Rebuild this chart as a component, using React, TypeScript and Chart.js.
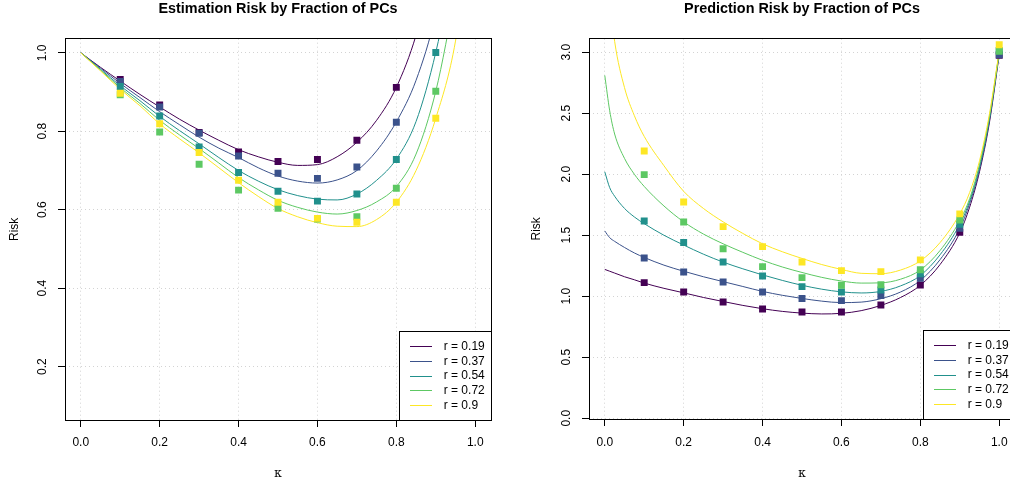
import React, { useEffect, useRef } from 'react';
import { Chart, registerables } from 'chart.js';

Chart.register(...registerables);

// ---------------- data ----------------
const SERIES_LABELS = ['r = 0.19', 'r = 0.37', 'r = 0.54', 'r = 0.72', 'r = 0.9'];
const SERIES_COLORS = ['#440154', '#3B528B', '#21908C', '#5DC863', '#FDE725'];

const X_TICKS = [0, 0.2, 0.4, 0.6, 0.8, 1.0];
const EST_Y_TICKS = [0.2, 0.4, 0.6, 0.8, 1.0];
const PRED_Y_TICKS = [0, 0.5, 1.0, 1.5, 2.0, 2.5, 3.0];

// simulated points (squares)
const POINT_K = [0.1, 0.2, 0.3, 0.4, 0.5, 0.6, 0.7, 0.8, 0.9, 1.0];

const EST_PTS_R019 = [0.932, 0.867, 0.797, 0.747, 0.723, 0.728, 0.777, 0.912, null, null];
const EST_PTS_R037 = [0.927, 0.862, 0.795, 0.737, 0.693, 0.680, 0.709, 0.823, null, null];
const EST_PTS_R054 = [0.914, 0.839, 0.760, 0.695, 0.647, 0.622, 0.640, 0.728, 1.001, null];
const EST_PTS_R072 = [0.893, 0.798, 0.716, 0.650, 0.604, 0.576, 0.582, 0.655, 0.902, null];
const EST_PTS_R090 = [0.897, 0.819, 0.746, 0.675, 0.619, 0.578, 0.568, 0.619, 0.833, null];

const PRED_PTS_R019 = [1.112, 1.035, 0.953, 0.896, 0.871, 0.871, 0.929, 1.093, 1.525, 2.975];
const PRED_PTS_R037 = [1.314, 1.199, 1.117, 1.035, 0.981, 0.964, 1.005, 1.148, 1.557, 2.98];
const PRED_PTS_R054 = [1.617, 1.440, 1.281, 1.166, 1.079, 1.035, 1.052, 1.185, 1.590, 3.015];
const PRED_PTS_R072 = [1.997, 1.609, 1.390, 1.243, 1.153, 1.090, 1.095, 1.218, 1.625, 3.008];
const PRED_PTS_R090 = [2.191, 1.773, 1.571, 1.407, 1.281, 1.210, 1.202, 1.298, 1.675, 3.062];

// theoretical curves
const EST_CURVE_K = [0, 0.05, 0.1, 0.15, 0.2, 0.25, 0.3, 0.35, 0.4, 0.45, 0.5, 0.55, 0.6, 0.65, 0.7, 0.75, 0.8, 0.85, 0.9, 0.95, 1.0];
const EST_CURVE_R019 = [1.0, 0.963, 0.928, 0.894, 0.862, 0.831, 0.803, 0.777, 0.753, 0.735, 0.721, 0.713, 0.715, 0.735, 0.772, 0.828, 0.912, 1.045, 1.25, null, null];
const EST_CURVE_R037 = [1.0, 0.961, 0.922, 0.886, 0.850, 0.817, 0.785, 0.757, 0.733, 0.707, 0.686, 0.673, 0.668, 0.676, 0.700, 0.750, 0.824, 0.930, 1.10, 1.38, null];
const EST_CURVE_R054 = [1.0, 0.958, 0.916, 0.878, 0.838, 0.802, 0.768, 0.733, 0.700, 0.673, 0.651, 0.636, 0.627, 0.625, 0.640, 0.675, 0.729, 0.825, 1.001, 1.25, null];
const EST_CURVE_R072 = [1.0, 0.956, 0.911, 0.871, 0.828, 0.791, 0.756, 0.719, 0.682, 0.651, 0.624, 0.606, 0.594, 0.589, 0.598, 0.620, 0.659, 0.742, 0.902, 1.15, null];
const EST_CURVE_R090 = [1.0, 0.954, 0.907, 0.865, 0.819, 0.781, 0.745, 0.707, 0.669, 0.634, 0.603, 0.582, 0.567, 0.558, 0.557, 0.575, 0.619, 0.700, 0.833, 1.03, 1.4];

const PRED_CURVE_K = [0, 0.0125, 0.025, 0.05, 0.075, 0.1, 0.15, 0.2, 0.25, 0.3, 0.35, 0.4, 0.45, 0.5, 0.55, 0.6, 0.65, 0.7, 0.75, 0.8, 0.85, 0.9, 0.925, 0.95, 0.975, 1.0];
const PRED_CURVE_R019 = [1.22, 1.205, 1.19, 1.16, 1.135, 1.108, 1.065, 1.028, 0.99, 0.957, 0.925, 0.898, 0.876, 0.862, 0.855, 0.86, 0.882, 0.925, 0.99, 1.09, 1.26, 1.52, 1.73, 2.02, 2.42, 2.98];
const PRED_CURVE_R037 = [1.535, 1.48, 1.45, 1.40, 1.355, 1.318, 1.255, 1.205, 1.16, 1.12, 1.08, 1.04, 1.008, 0.982, 0.96, 0.948, 0.952, 0.98, 1.035, 1.13, 1.30, 1.555, 1.76, 2.04, 2.44, 2.99];
const PRED_CURVE_R054 = [2.02, 1.89, 1.82, 1.72, 1.65, 1.595, 1.50, 1.42, 1.345, 1.28, 1.225, 1.175, 1.13, 1.09, 1.058, 1.036, 1.027, 1.04, 1.085, 1.17, 1.34, 1.59, 1.78, 2.06, 2.45, 3.0];
const PRED_CURVE_R072 = [2.81, 2.52, 2.33, 2.13, 2.00, 1.90, 1.74, 1.61, 1.51, 1.43, 1.36, 1.295, 1.24, 1.195, 1.155, 1.125, 1.108, 1.11, 1.14, 1.215, 1.375, 1.62, 1.80, 2.08, 2.47, 3.0];
const PRED_CURVE_R090 = [3.9, 3.45, 3.09, 2.71, 2.48, 2.31, 2.07, 1.86, 1.72, 1.61, 1.515, 1.43, 1.365, 1.31, 1.26, 1.22, 1.188, 1.185, 1.215, 1.29, 1.44, 1.675, 1.85, 2.11, 2.49, 3.01];

const EST_TITLE = 'Estimation Risk by Fraction of PCs';
const PRED_TITLE = 'Prediction Risk by Fraction of PCs';
const X_LABEL = 'κ';
const Y_LABEL = 'Risk';

// ---------------- helpers ----------------
const SANS = '"Liberation Sans", Arial, Helvetica, sans-serif';

function buildDatasets(curveK: number[], curves: (number | null)[][], points: (number | null)[][]) {
  const ds: any[] = [];
  curves.forEach((vals, i) => {
    ds.push({
      type: 'line',
      label: SERIES_LABELS[i],
      showInLegend: true,
      data: curveK.map((k, j) => ({ x: k, y: vals[j] })),
      borderColor: SERIES_COLORS[i],
      backgroundColor: SERIES_COLORS[i],
      borderWidth: 1,
      pointRadius: 0,
      pointHoverRadius: 0,
      cubicInterpolationMode: 'monotone',
      fill: false,
      spanGaps: false,
      order: 20 - i,
    });
  });
  points.forEach((vals, i) => {
    ds.push({
      type: 'line',
      label: SERIES_LABELS[i] + ' (simulated)',
      showInLegend: false,
      showLine: false,
      data: POINT_K.map((k, j) => ({ x: k, y: vals[j] })),
      pointStyle: 'rect',
      pointRadius: 4.9,
      pointHoverRadius: 4.9,
      pointBorderWidth: 0,
      pointBackgroundColor: SERIES_COLORS[i],
      borderColor: SERIES_COLORS[i],
      backgroundColor: SERIES_COLORS[i],
      order: 10 - i,
    });
  });
  return ds;
}

const frameLegendPlugin = {
  id: 'frameLegend',
  afterDraw(chart: any) {
    const { ctx, chartArea: a } = chart;
    ctx.save();
    // plot box
    const l = Math.floor(a.left) + 0.5;
    const t = Math.floor(a.top) + 0.5;
    const r = Math.floor(a.right) + 0.5;
    const b = Math.floor(a.bottom) + 0.5;
    ctx.strokeStyle = '#000';
    ctx.lineWidth = 1;
    ctx.setLineDash([]);
    ctx.strokeRect(l, t, r - l, b - t);

    // legend
    const lw = 92;
    const lh = 89;
    const bx = Math.floor(a.right) - lw;
    const by = Math.floor(a.bottom) - lh;
    ctx.fillStyle = '#fff';
    ctx.fillRect(bx, by, lw, lh);
    ctx.strokeStyle = '#000';
    ctx.strokeRect(bx + 0.5, by + 0.5, lw, lh);
    const items = chart.data.datasets.filter((d: any) => d.showInLegend);
    ctx.font = '12px ' + SANS;
    ctx.textAlign = 'left';
    ctx.textBaseline = 'middle';
    items.forEach((d: any, i: number) => {
      const y = by + 15.7 + i * 14.65;
      const ly = Math.floor(y) + 0.5;
      ctx.strokeStyle = d.borderColor;
      ctx.lineWidth = 1;
      ctx.beginPath();
      ctx.moveTo(bx + 11, ly);
      ctx.lineTo(bx + 33, ly);
      ctx.stroke();
      ctx.fillStyle = '#000';
      ctx.fillText(d.label, bx + 44.7, y);
    });
    ctx.restore();
  },
};

interface PanelCfg {
  title: string;
  yMin: number;
  yMax: number;
  yTicks: number[];
  yAxisWidth: number;
  xAxisHeight: number;
  padRight: number;
  yTitlePad: number;
  xTickPad: number;
  datasets: any[];
}

function makeConfig(c: PanelCfg): any {
  return {
    type: 'line',
    data: { datasets: c.datasets },
    plugins: [frameLegendPlugin],
    options: {
      responsive: false,
      maintainAspectRatio: false,
      animation: false,
      devicePixelRatio: 1,
      events: [],
      layout: { padding: { top: 0, left: 0, bottom: 0, right: c.padRight } },
      plugins: {
        legend: { display: false },
        tooltip: { enabled: false },
        title: {
          display: true,
          text: c.title,
          fullSize: false,
          color: '#000',
          font: { family: SANS, size: 14.4, weight: 'bold', lineHeight: 1.2 },
          padding: { top: 0.6, bottom: 20.82 },
        },
      },
      scales: {
        x: {
          type: 'linear',
          min: -0.04,
          max: 1.04,
          afterBuildTicks: (s: any) => {
            s.ticks = X_TICKS.map((v) => ({ value: v }));
          },
          afterFit: (s: any) => {
            s.height = c.xAxisHeight;
          },
          ticks: {
            autoSkip: false,
            maxRotation: 0,
            minRotation: 0,
            color: '#000',
            padding: c.xTickPad,
            font: { family: SANS, size: 12 },
            callback: (v: any) => Number(v).toFixed(1),
          },
          grid: {
            color: '#D3D3D3',
            lineWidth: 1,
            drawTicks: true,
            tickLength: 7,
            tickColor: '#000',
            tickWidth: 1,
            tickBorderDash: [],
          },
          border: { display: false, dash: [1, 3] },
          title: {
            display: true,
            text: X_LABEL,
            color: '#000',
            font: { family: '"DejaVu Serif", "Liberation Serif", serif', size: 12 },
            padding: { top: 0, bottom: -1.5 },
          },
        },
        y: {
          type: 'linear',
          min: c.yMin,
          max: c.yMax,
          afterBuildTicks: (s: any) => {
            s.ticks = c.yTicks.map((v) => ({ value: v }));
          },
          afterFit: (s: any) => {
            s.width = c.yAxisWidth;
          },
          ticks: {
            autoSkip: false,
            minRotation: 90,
            maxRotation: 90,
            crossAlign: 'center',
            color: '#000',
            padding: 6.5,
            font: { family: SANS, size: 12 },
            callback: (v: any) => Number(v).toFixed(1),
          },
          grid: {
            color: '#D3D3D3',
            lineWidth: 1,
            drawTicks: true,
            tickLength: 7,
            tickColor: '#000',
            tickWidth: 1,
            tickBorderDash: [],
          },
          border: { display: false, dash: [1, 3] },
          title: {
            display: true,
            text: Y_LABEL,
            color: '#000',
            font: { family: SANS, size: 12 },
            padding: { top: c.yTitlePad, bottom: 0 },
          },
        },
      },
    },
  };
}

export default function App() {
  const leftRef = useRef<HTMLCanvasElement | null>(null);
  const rightRef = useRef<HTMLCanvasElement | null>(null);

  useEffect(() => {
    Chart.defaults.font.family = SANS;
    const left = new Chart(
      leftRef.current as HTMLCanvasElement,
      makeConfig({
        title: EST_TITLE,
        yMin: 0.064,
        yMax: 1.036,
        yTicks: EST_Y_TICKS,
        yAxisWidth: 65,
        xAxisHeight: 60,
        padRight: 14,
        yTitlePad: 7,
        xTickPad: 8.5,
        datasets: buildDatasets(
          EST_CURVE_K,
          [EST_CURVE_R019, EST_CURVE_R037, EST_CURVE_R054, EST_CURVE_R072, EST_CURVE_R090],
          [EST_PTS_R019, EST_PTS_R037, EST_PTS_R054, EST_PTS_R072, EST_PTS_R090]
        ),
      })
    );
    const right = new Chart(
      rightRef.current as HTMLCanvasElement,
      makeConfig({
        title: PRED_TITLE,
        yMin: -0.006,
        yMax: 3.111,
        yTicks: PRED_Y_TICKS,
        yAxisWidth: 84,
        xAxisHeight: 61,
        padRight: 20,
        yTitlePad: 24.5,
        xTickPad: 9.5,
        datasets: buildDatasets(
          PRED_CURVE_K,
          [PRED_CURVE_R019, PRED_CURVE_R037, PRED_CURVE_R054, PRED_CURVE_R072, PRED_CURVE_R090],
          [PRED_PTS_R019, PRED_PTS_R037, PRED_PTS_R054, PRED_PTS_R072, PRED_PTS_R090]
        ),
      })
    );
    return () => {
      left.destroy();
      right.destroy();
    };
  }, []);

  return (
    <div
      style={{
        position: 'absolute',
        left: 0,
        top: 0,
        width: 1010,
        height: 480,
        overflow: 'hidden',
        background: '#fff',
      }}
    >
      <div style={{ position: 'absolute', left: 0, top: 0, width: 505, height: 480 }}>
        <canvas ref={leftRef} width={505} height={480} style={{ display: 'block' }} />
      </div>
      <div style={{ position: 'absolute', left: 505, top: 0, width: 530, height: 480 }}>
        <canvas ref={rightRef} width={530} height={480} style={{ display: 'block' }} />
      </div>
    </div>
  );
}
